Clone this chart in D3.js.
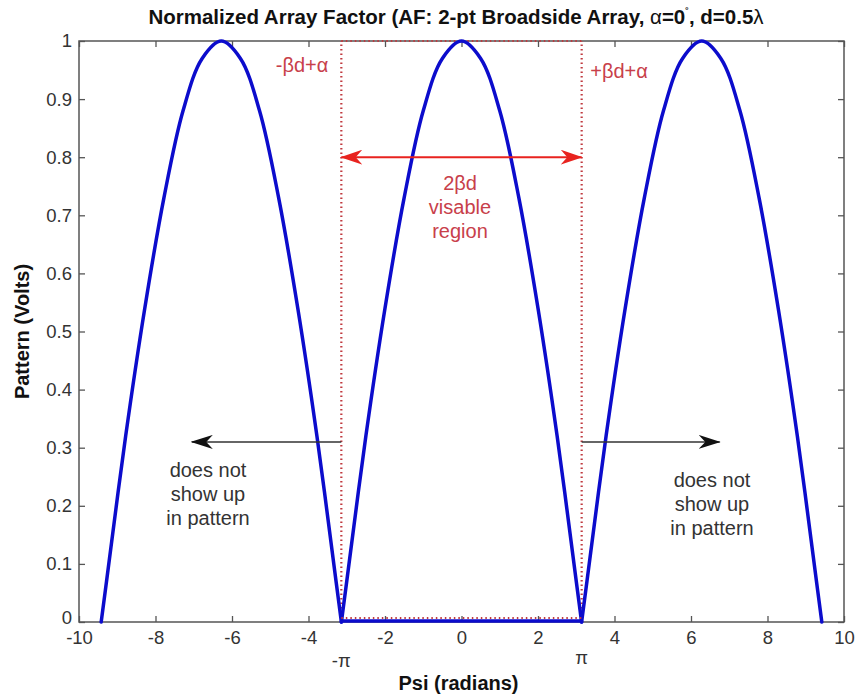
<!DOCTYPE html>
<html>
<head>
<meta charset="utf-8">
<script src="https://cdn.jsdelivr.net/npm/d3@7"></script>
<style>
  body { margin: 0; background: #fff; }
  text { font-family: "Liberation Sans", Arial, sans-serif; }
</style>
</head>
<body>
<svg id="chart" width="859" height="694"></svg>
<script>
// valores (tres lobulos)
var psi = [-9.42, -9.28, -8.78, -8.28, -7.78, -7.28, -6.78, -6.28, -5.78, -5.28, -4.78, -4.28, -3.78, -3.28, -3.14,
           -3, -2.5, -2, -1.5, -1, -0.5, 0, 0.5, 1, 1.5, 2, 2.5, 3, 3.14,
           3.28, 3.78, 4.28, 4.78, 5.28, 5.78, 6.28, 6.78, 7.28, 7.78, 8.28, 8.78, 9.28, 9.42];
var patron = [0, 0.07, 0.32, 0.54, 0.73, 0.88, 0.97, 1, 0.97, 0.88, 0.73, 0.54, 0.32, 0.07, 0,
              0.07, 0.32, 0.54, 0.73, 0.88, 0.97, 1, 0.97, 0.88, 0.73, 0.54, 0.32, 0.07, 0,
              0.07, 0.32, 0.54, 0.73, 0.88, 0.97, 1, 0.97, 0.88, 0.73, 0.54, 0.32, 0.07, 0];
// linea plana en la base entre -pi y pi
var psiBase = [-3.14, 3.14];
var patronBase = [0, 0];
var ticksX = [-10, -8, -6, -4, -2, 0, 2, 4, 6, 8, 10];
var ticksY = [0, 0.1, 0.2, 0.3, 0.4, 0.5, 0.6, 0.7, 0.8, 0.9, 1];
var regionVisible = [-3.1416, 3.1416];
var nivelFlechaRoja = 0.8;
var nivelFlechasNegras = 0.31;
var finFlechasNegras = [-7.05, 6.75];

var izq = 79, arriba = 41, anchura = 765, altura = 581;
var tamLetra = "18.5px";
var tamTexto = "20px";
var svg = d3.select("#chart");
var g = svg.append("g").attr("transform", "translate(" + izq + "," + arriba + ")");

var x = d3.scaleLinear().domain([-10, 10]).range([0, anchura]);
var y = d3.scaleLinear().domain([0, 1]).range([altura, 0]);

var defs = svg.append("defs");
function punta(id, color, largo, ancho) {
  defs.append("marker")
    .attr("id", id)
    .attr("viewBox", "0 0 " + largo + " " + ancho)
    .attr("refX", largo - 1).attr("refY", ancho / 2)
    .attr("markerWidth", largo).attr("markerHeight", ancho)
    .attr("markerUnits", "userSpaceOnUse")
    .attr("orient", "auto-start-reverse")
    .append("path")
    .attr("d", "M0,0 L" + largo + "," + ancho / 2 + " L0," + ancho + " L" + largo * 0.3 + "," + ancho / 2 + " Z")
    .attr("fill", color);
}
punta("rojo", "#e8231f", 22, 15);
punta("negro", "#111", 22, 14);

// caja con ticks hacia dentro
var colorEje = "#555";
g.append("rect").attr("width", anchura).attr("height", altura)
  .attr("fill", "none").attr("stroke", colorEje).attr("stroke-width", 1.5);

var ejeX = g.append("g").attr("transform", "translate(0," + altura + ")")
  .call(d3.axisBottom(x).tickValues(ticksX).tickSizeInner(-6).tickSizeOuter(0).tickPadding(9)
    .tickFormat(function (d) { return String(d); }));
var ejeXsup = g.append("g")
  .call(d3.axisTop(x).tickValues(ticksX).tickSizeInner(-6).tickSizeOuter(0).tickFormat(""));
var ejeY = g.append("g")
  .call(d3.axisLeft(y).tickValues(ticksY).tickSizeInner(-6).tickSizeOuter(0).tickPadding(7)
    .tickFormat(function (d) { return String(+d.toFixed(1)); }));
var ejeYder = g.append("g").attr("transform", "translate(" + anchura + ",0)")
  .call(d3.axisRight(y).tickValues(ticksY).tickSizeInner(-6).tickSizeOuter(0).tickFormat(""));

[ejeX, ejeXsup, ejeY, ejeYder].forEach(function (e) {
  e.select(".domain").remove();
  e.selectAll("line").attr("stroke", colorEje).attr("stroke-width", 1.3);
  e.selectAll("text").attr("fill", "#333").style("font-size", tamLetra)
    .style("font-family", "'Liberation Sans', Arial, sans-serif");
});
// el "0" del eje y un poco mas arriba para no chocar con "-10"
ejeY.selectAll("text").filter(function (d) { return d === 0; }).attr("dy", "0.08em");

// lineas punteadas de la region visible
var rojoPunteado = "#c0393f";
regionVisible.forEach(function (v) {
  g.append("line")
    .attr("x1", x(v)).attr("x2", x(v)).attr("y1", y(0)).attr("y2", y(1))
    .attr("stroke", rojoPunteado).attr("stroke-width", 2.2).attr("stroke-dasharray", "1.5,3");
});
g.append("line")
  .attr("x1", x(regionVisible[0])).attr("x2", x(regionVisible[1]))
  .attr("y1", y(1)).attr("y2", y(1))
  .attr("stroke", rojoPunteado).attr("stroke-width", 2.2).attr("stroke-dasharray", "1.5,3");

// curva del patron: un arco por cada tramo entre ceros
var puntos = d3.zip(psi, patron);
var arcos = [];
var actual = [];
puntos.forEach(function (p, i) {
  actual.push(p);
  if (p[1] === 0 && i > 0) {
    arcos.push(actual);
    actual = [p];
  }
});
var linea = d3.line()
  .x(function (d) { return x(d[0]); })
  .y(function (d) { return y(d[1]); })
  .curve(d3.curveCatmullRom.alpha(0.5));
g.selectAll(".arco")
  .data(arcos)
  .join("path")
  .attr("class", "arco")
  .attr("d", linea)
  .attr("fill", "none").attr("stroke", "#0c0ccc").attr("stroke-width", 3.5)
  .attr("stroke-linejoin", "round").attr("stroke-linecap", "round");
g.append("path")
  .datum(d3.zip(psiBase, patronBase))
  .attr("d", d3.line().x(function (d) { return x(d[0]); }).y(function (d) { return y(d[1]) - 1; }))
  .attr("stroke", "#0c0ccc").attr("stroke-width", 3.5);
g.append("line")
  .attr("x1", x(regionVisible[0])).attr("x2", x(regionVisible[1]))
  .attr("y1", y(0) - 4).attr("y2", y(0) - 4)
  .attr("stroke", rojoPunteado).attr("stroke-width", 2).attr("stroke-dasharray", "1.5,3");

// flecha roja doble
g.append("line")
  .attr("x1", x(regionVisible[0])).attr("x2", x(regionVisible[1]))
  .attr("y1", y(nivelFlechaRoja)).attr("y2", y(nivelFlechaRoja))
  .attr("stroke", "#e8231f").attr("stroke-width", 2)
  .attr("marker-start", "url(#rojo)").attr("marker-end", "url(#rojo)");

// flechas negras
g.append("line")
  .attr("x1", x(regionVisible[0])).attr("x2", x(finFlechasNegras[0]))
  .attr("y1", y(nivelFlechasNegras)).attr("y2", y(nivelFlechasNegras))
  .attr("stroke", "#333").attr("stroke-width", 1.5).attr("marker-end", "url(#negro)");
g.append("line")
  .attr("x1", x(regionVisible[1])).attr("x2", x(finFlechasNegras[1]))
  .attr("y1", y(nivelFlechasNegras)).attr("y2", y(nivelFlechasNegras))
  .attr("stroke", "#333").attr("stroke-width", 1.5).attr("marker-end", "url(#negro)");

// textos
function bloque(lineas, cx, cy, color) {
  var t = svg.append("text").attr("text-anchor", "middle").attr("fill", color)
    .style("font-size", tamTexto);
  lineas.forEach(function (l, i) {
    t.append("tspan").attr("x", cx).attr("y", cy + i * 24).text(l);
  });
}
bloque(["does not", "show up", "in pattern"], 208, 477, "#333");
bloque(["does not", "show up", "in pattern"], 712, 487, "#333");
bloque(["2βd", "visable", "region"], 460, 190, "#c8404a");
svg.append("text").attr("x", 302).attr("y", 72).attr("text-anchor", "middle")
  .attr("fill", "#c8404a").style("font-size", tamTexto).text("-βd+α");
svg.append("text").attr("x", 619).attr("y", 78).attr("text-anchor", "middle")
  .attr("fill", "#c8404a").style("font-size", tamTexto).text("+βd+α");
svg.append("text").attr("x", izq + x(-Math.PI)).attr("y", 667).attr("text-anchor", "middle")
  .attr("fill", "#333").style("font-size", tamLetra).text("-π");
svg.append("text").attr("x", izq + x(Math.PI)).attr("y", 664).attr("text-anchor", "middle")
  .attr("fill", "#333").style("font-size", tamLetra).text("π");

// titulo y etiquetas de ejes
var titulo = svg.append("text").attr("x", 456).attr("y", 24).attr("text-anchor", "middle")
  .attr("fill", "#111").style("font-size", "20.5px").style("font-weight", "bold");
titulo.append("tspan").text("Normalized Array Factor (AF: 2-pt Broadside Array, ");
titulo.append("tspan").style("font-weight", "normal").text("α");
titulo.append("tspan").text("=0");
titulo.append("tspan").attr("dy", -8).style("font-size", "11px").text("˚");
titulo.append("tspan").attr("dy", 8).text(", d=0.5");
titulo.append("tspan").style("font-weight", "normal").text("λ");

svg.append("text").attr("x", izq + anchura / 2 - 3).attr("y", 690).attr("text-anchor", "middle")
  .attr("fill", "#111").style("font-size", tamTexto).style("font-weight", "bold").text("Psi (radians)");
svg.append("text").attr("transform", "translate(29," + (arriba + altura / 2) + ") rotate(-90)")
  .attr("text-anchor", "middle")
  .attr("fill", "#111").style("font-size", tamTexto).style("font-weight", "bold").text("Pattern (Volts)");
</script>
</body>
</html>
